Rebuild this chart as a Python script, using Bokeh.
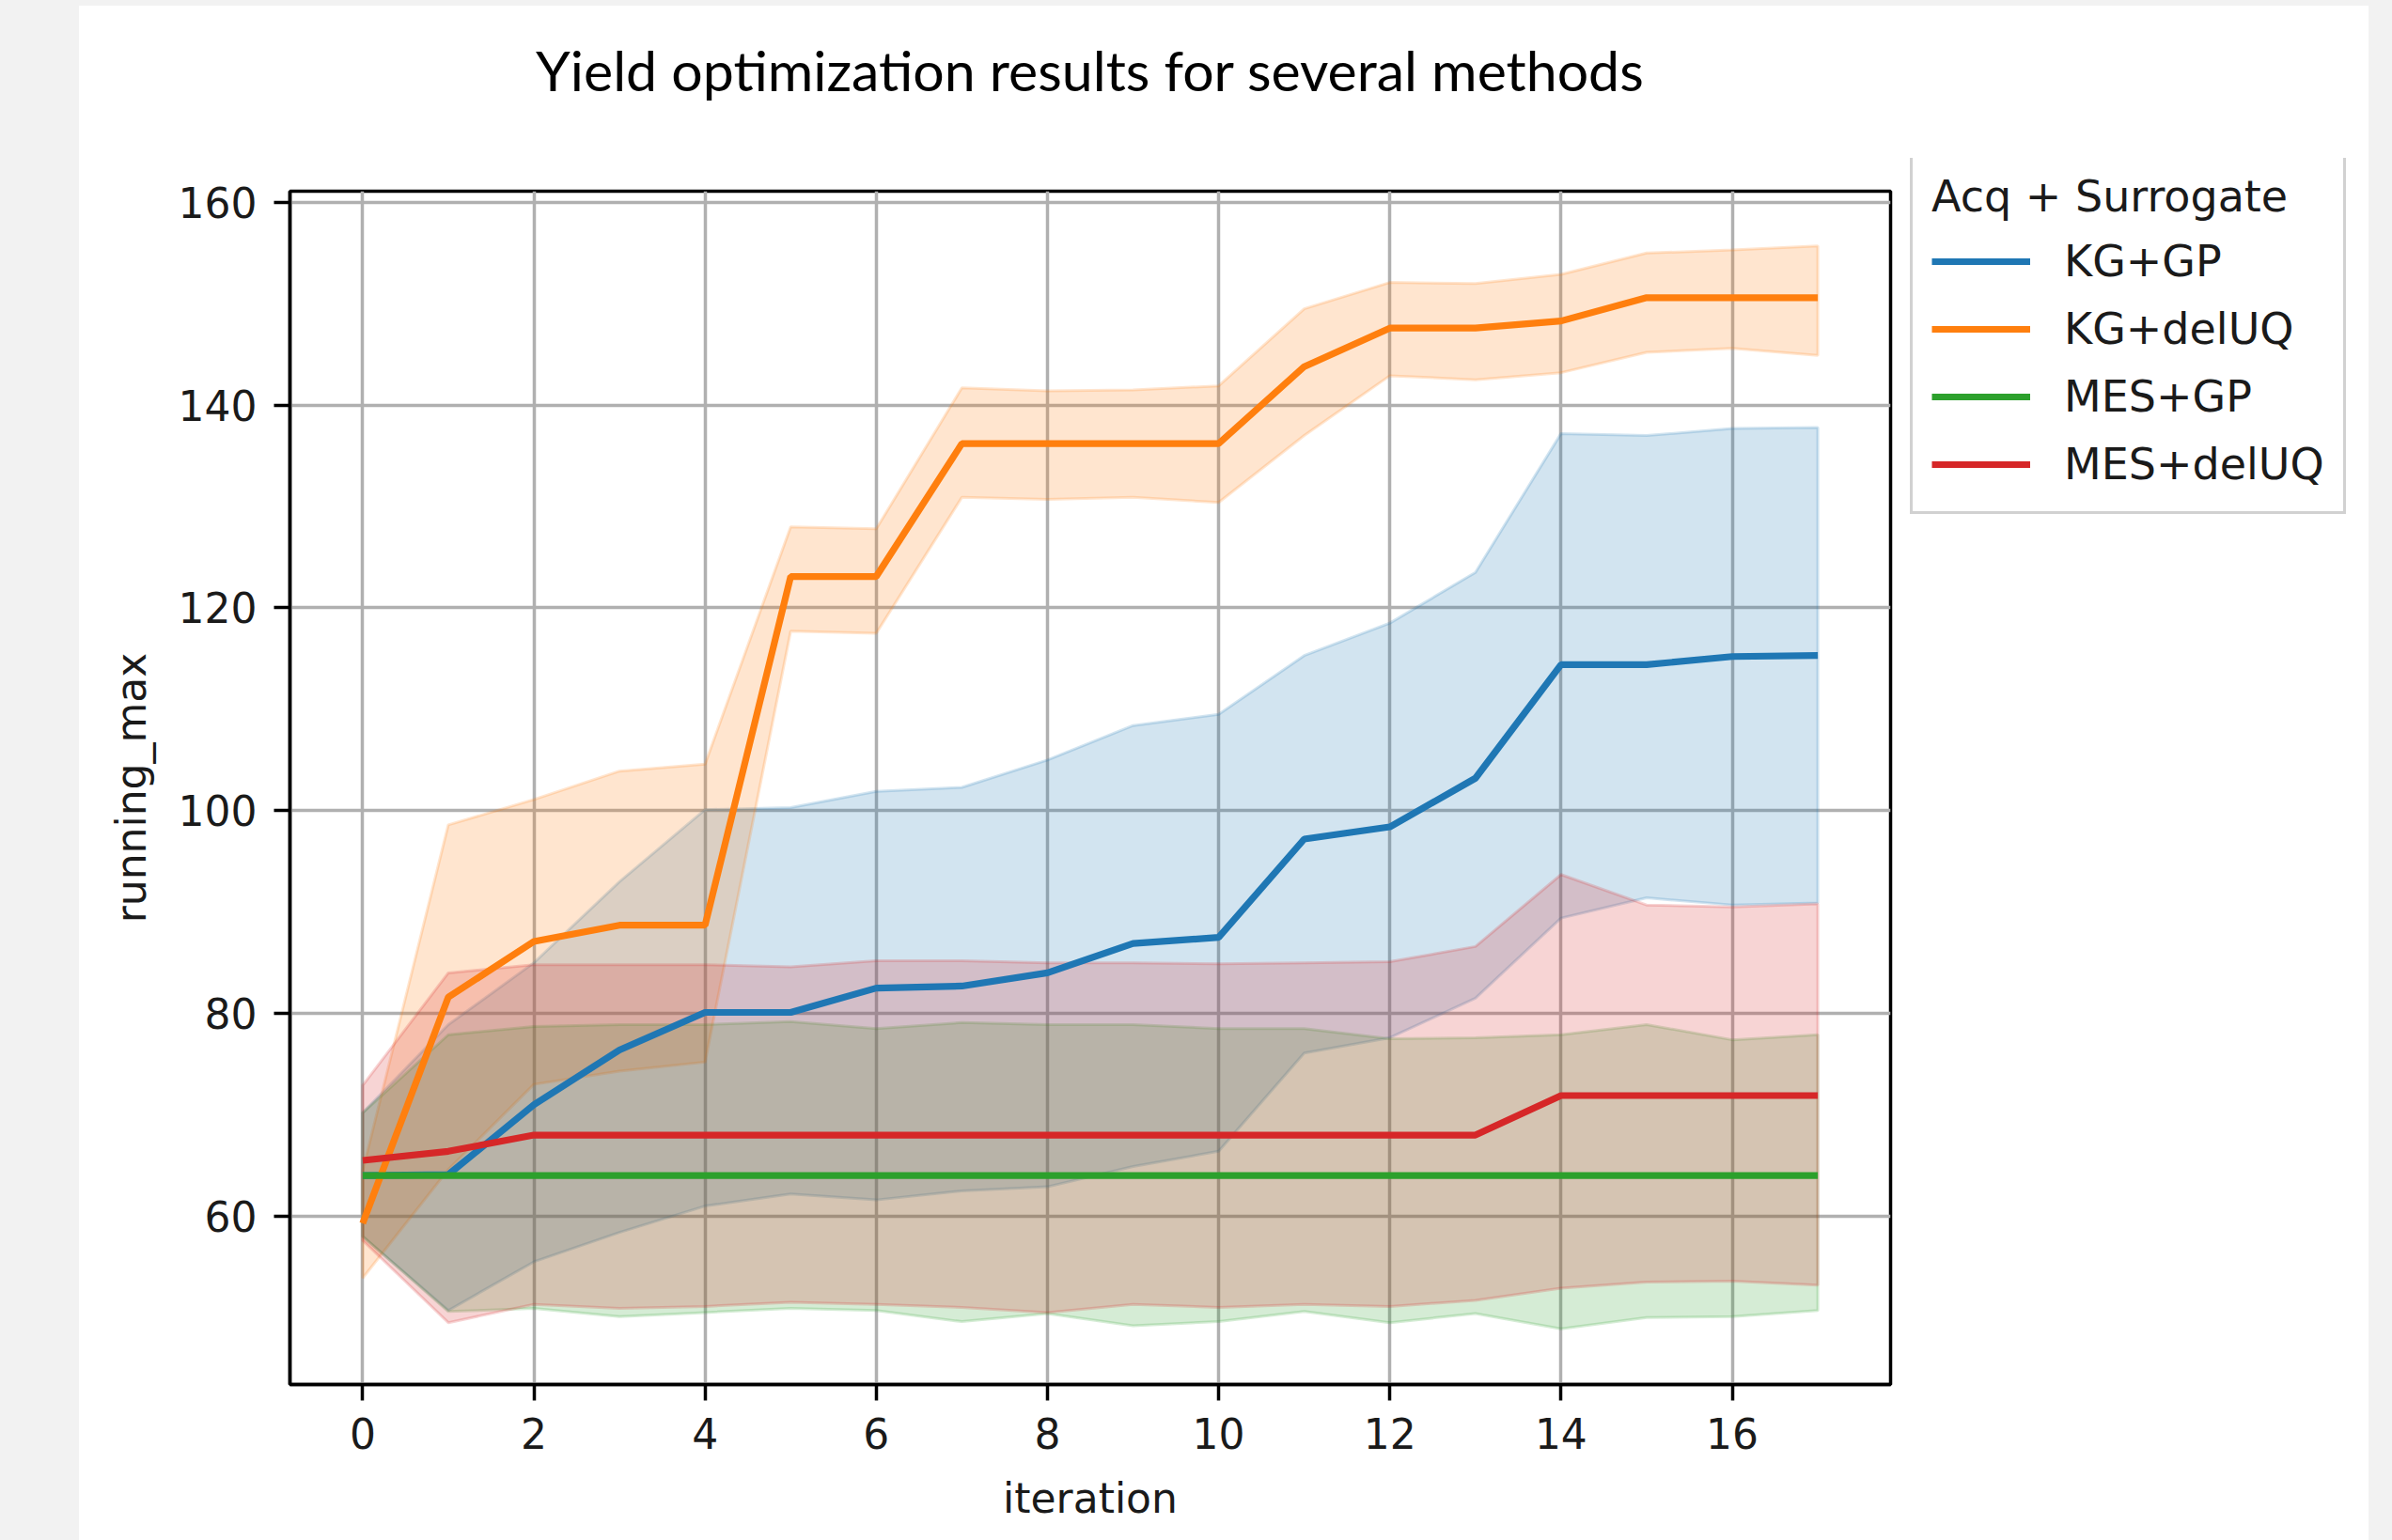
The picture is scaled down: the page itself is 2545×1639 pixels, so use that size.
from bokeh.plotting import figure
from bokeh.models import FixedTicker, Legend, LegendItem, Spacer, Range1d, LinearAxis
from bokeh.layouts import row, column
from bokeh.embed import file_html
from bokeh.resources import INLINE

# ---------------- data ----------------
iteration = list(range(18))

series_names = ["KG+GP", "KG+delUQ", "MES+GP", "MES+delUQ"]
series_colors = ["#1f77b4", "#ff7f0e", "#2ca02c", "#d62728"]

kg_gp_mean = [64.0, 64.1, 71.0, 76.4, 80.1, 80.1, 82.5, 82.7, 84.0, 86.9, 87.5, 97.2, 98.4, 103.2, 114.4, 114.4, 115.2, 115.3]
kg_gp_upper = [70.2, 78.9, 85.0, 93.0, 100.1, 100.3, 101.9, 102.3, 105.0, 108.4, 109.5, 115.3, 118.5, 123.5, 137.2, 137.0, 137.7, 137.8]
kg_gp_lower = [58.0, 50.7, 55.5, 58.4, 61.0, 62.2, 61.6, 62.5, 62.9, 64.9, 66.4, 76.1, 77.6, 81.5, 89.4, 91.4, 90.7, 90.9]

kg_deluq_mean = [59.3, 81.6, 87.1, 88.7, 88.7, 123.1, 123.1, 136.2, 136.2, 136.2, 136.2, 143.8, 147.6, 147.6, 148.3, 150.6, 150.6, 150.6]
kg_deluq_upper = [64.5, 98.6, 101.1, 103.9, 104.6, 128.0, 127.8, 141.7, 141.4, 141.5, 141.9, 149.5, 152.1, 152.0, 152.9, 155.0, 155.3, 155.7]
kg_deluq_lower = [53.9, 64.6, 73.0, 74.3, 75.2, 117.7, 117.5, 130.9, 130.7, 130.9, 130.4, 137.0, 142.9, 142.5, 143.2, 145.2, 145.6, 144.9]

mes_gp_mean = [64.0, 64.0, 64.0, 64.0, 64.0, 64.0, 64.0, 64.0, 64.0, 64.0, 64.0, 64.0, 64.0, 64.0, 64.0, 64.0, 64.0, 64.0]
mes_gp_upper = [70.2, 77.9, 78.7, 78.9, 78.9, 79.2, 78.5, 79.1, 78.9, 78.9, 78.5, 78.5, 77.5, 77.6, 77.9, 78.9, 77.4, 77.9]
mes_gp_lower = [58.0, 50.6, 50.9, 50.1, 50.5, 50.9, 50.7, 49.6, 50.4, 49.2, 49.6, 50.6, 49.5, 50.4, 48.9, 50.0, 50.1, 50.7]

mes_deluq_mean = [65.5, 66.4, 68.0, 68.0, 68.0, 68.0, 68.0, 68.0, 68.0, 68.0, 68.0, 68.0, 68.0, 68.0, 71.9, 71.9, 71.9, 71.9]
mes_deluq_upper = [72.9, 84.0, 84.8, 84.8, 84.8, 84.6, 85.2, 85.2, 85.0, 85.0, 84.9, 85.0, 85.1, 86.6, 93.7, 90.7, 90.5, 90.8]
mes_deluq_lower = [57.6, 49.5, 51.3, 50.9, 51.1, 51.5, 51.3, 51.0, 50.5, 51.3, 51.0, 51.3, 51.1, 51.7, 52.9, 53.5, 53.6, 53.2]

x_ticks = [0, 2, 4, 6, 8, 10, 12, 14, 16]
y_ticks = [60, 80, 100, 120, 140, 160]

title_text = "Yield optimization results for several methods"
legend_title = "Acq + Surrogate"
x_label = "iteration"
y_label = "running_max"

means = [kg_gp_mean, kg_deluq_mean, mes_gp_mean, mes_deluq_mean]
uppers = [kg_gp_upper, kg_deluq_upper, mes_gp_upper, mes_deluq_upper]
lowers = [kg_gp_lower, kg_deluq_lower, mes_gp_lower, mes_deluq_lower]

# ---------------- main figure ----------------
FONT = "DejaVu Sans"
FS = "44px"
LFS = "46px"
GRAY = "#f2f2f2"
H = 1633

p = figure(width=1931, height=H, output_backend="svg", toolbar_location=None,
           x_range=Range1d(-0.85, 17.85), y_range=Range1d(43.4, 161.1),
           title=None,
           min_border_left=224, min_border_right=4, min_border_top=197,
           min_border_bottom=166, background_fill_color="white",
           border_fill_color="white")

p.outline_line_color = "black"
p.outline_line_width = 3.5
p.outline_line_alpha = 1.0

for ax in (p.xaxis[0], p.yaxis[0]):
    ax.axis_line_color = "black"
    ax.axis_line_width = 3.5
    ax.major_tick_line_color = "black"
    ax.major_tick_line_width = 3.5
    ax.major_tick_out = 17
    ax.major_tick_in = 0
    ax.minor_tick_out = 0
    ax.minor_tick_in = 0
    ax.major_label_text_font = FONT
    ax.major_label_text_font_size = FS
    ax.major_label_text_color = "#1a1a1a"
    ax.major_label_standoff = 18
    ax.axis_label_text_font = FONT
    ax.axis_label_text_font_size = FS
    ax.axis_label_text_font_style = "normal"
    ax.axis_label_text_color = "#1a1a1a"

p.xaxis.ticker = FixedTicker(ticks=x_ticks)
p.yaxis.ticker = FixedTicker(ticks=y_ticks)
p.xaxis.axis_label = x_label
p.yaxis.axis_label = y_label
p.xaxis.axis_label_standoff = 24
p.yaxis.axis_label_standoff = 22

p.xgrid.grid_line_color = "#b0b0b0"
p.ygrid.grid_line_color = "#b0b0b0"
p.xgrid.grid_line_width = 3.5
p.ygrid.grid_line_width = 3.5

# chart title, carried by a tick-less axis above the frame
title_axis = LinearAxis(
    ticker=FixedTicker(ticks=[]),
    axis_label=title_text, axis_label_text_font="Lato",
    axis_label_text_font_size="59px", axis_label_text_font_style="normal",
    axis_label_text_color="black", axis_label_standoff=94,
    axis_line_color=None, major_tick_out=0, major_tick_in=0,
    minor_tick_out=0, minor_tick_in=0, major_label_standoff=0,
)
p.add_layout(title_axis, "above")

# bands (drawn first, under all lines)
for up, lo, col in zip(uppers, lowers, series_colors):
    xs = iteration + iteration[::-1]
    ys = up + lo[::-1]
    p.patch(xs, ys, fill_color=col, fill_alpha=0.2, line_color=col,
            line_alpha=0.2, line_width=3)

for m, col in zip(means, series_colors):
    p.line(iteration, m, line_color=col, line_width=7.2)

# ---------------- legend panel (separate figure so it is not clipped) ----------------
q = figure(width=505, height=H, output_backend="svg", toolbar_location=None,
           x_range=Range1d(-0.85, 17.85), y_range=Range1d(43.4, 161.1),
           x_axis_location=None, y_axis_location=None, title=None,
           min_border_left=0, min_border_right=0, min_border_top=0,
           min_border_bottom=0, background_fill_color="white",
           border_fill_color="white", border_fill_alpha=0.0,
           styles={"margin-top": "-35px"})
q.outline_line_color = None
q.xgrid.visible = False
q.ygrid.visible = False

legend_renderers = []
for m, col in zip(means, series_colors):
    r = q.line(iteration, m, line_color=col, line_width=7.2)
    r.visible = False
    legend_renderers.append(r)

legend = Legend(
    items=[LegendItem(label=n, renderers=[r]) for n, r in zip(series_names, legend_renderers)],
    title=legend_title,
    location=(17, 891),
    orientation="vertical",
    click_policy="none",
    title_text_font=FONT, title_text_font_size=LFS, title_text_font_style="normal",
    title_text_color="#1a1a1a", title_standoff=12,
    label_text_font=FONT, label_text_font_size=LFS, label_text_color="#1a1a1a",
    glyph_width=105, glyph_height=60, label_height=60, spacing=12,
    label_standoff=36, padding=20, margin=0,
    border_line_color="#cccccc", border_line_width=3, border_line_alpha=0.9,
    background_fill_color="white", background_fill_alpha=0.8,
)
q.add_layout(legend)

left_strip = Spacer(width=84, height=H, styles={"background-color": GRAY})
right_strip = Spacer(width=25, height=H, styles={"background-color": GRAY})
top_strip = Spacer(width=2545, height=6, styles={"background-color": GRAY})

layout = column(top_strip, row(left_strip, p, q, right_strip))

open("out.html", "w").write(file_html(layout, INLINE))
